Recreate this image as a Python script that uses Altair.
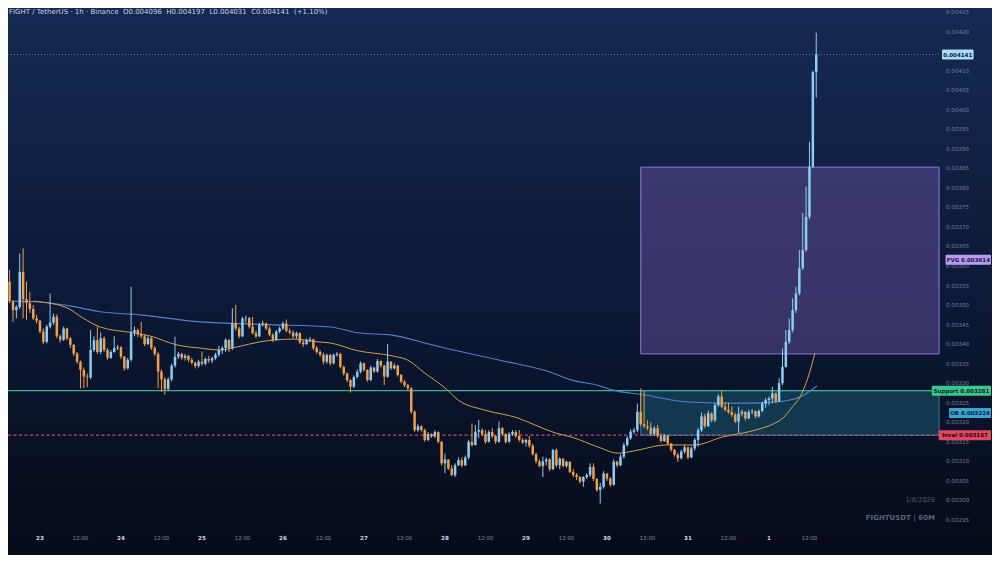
import altair as alt
import pandas as pd

U = 1e-6  # all prices below are written in millionths of USDT

# ---------------- candle data (hourly, Jan 22 15:00 -> Feb 1 14:00) ----------------
first_open = 3560
closes = [
    3510, 3487, 3495, 3585, 3515, 3505, 3490, 3466, 3460, 3432,
    3406, 3445, 3455, 3470, 3420, 3411, 3440, 3415, 3398, 3376,
    3355, 3334, 3317, 3315, 3385, 3410, 3380, 3415, 3385, 3365,
    3380, 3390, 3392, 3368, 3338, 3360, 3430, 3436, 3425, 3420,
    3400, 3415, 3390, 3375, 3330, 3310, 3285, 3310, 3345, 3368,
    3375, 3365, 3370, 3360, 3352, 3344, 3355, 3350, 3362, 3358,
    3364, 3373, 3385,
    3390, 3411, 3390, 3454, 3440, 3420, 3466, 3467, 3445, 3428,
    3420, 3450, 3453, 3440, 3424, 3411, 3432, 3440, 3453, 3434,
    3430, 3420, 3428, 3405, 3400, 3410, 3412, 3390, 3380, 3373,
    3355, 3372, 3351,
    3372, 3375, 3342, 3325, 3308, 3291, 3316, 3329, 3351, 3334,
    3308, 3340, 3330, 3357, 3345, 3317, 3355, 3338, 3345, 3321,
    3304, 3295, 3287, 3227, 3180, 3190, 3180, 3155, 3170, 3164,
    3175, 3150, 3095,
    3105, 3082, 3065, 3090, 3103, 3090, 3110, 3150, 3142, 3176,
    3180, 3170, 3150, 3175, 3165, 3150, 3185, 3170, 3150, 3170,
    3175, 3165, 3155, 3148, 3155, 3140, 3118, 3100, 3088, 3100,
    3105, 3080, 3129, 3090,
    3107, 3088, 3099, 3073, 3065, 3060, 3048, 3060, 3065, 3086,
    3055, 3027, 3035, 3069, 3056, 3040, 3099, 3090, 3112, 3142,
    3159, 3176, 3180, 3227, 3195, 3190, 3186, 3170, 3185, 3165,
    3152, 3166, 3146, 3130, 3117, 3108, 3125, 3136, 3110, 3133,
    3155, 3180, 3215, 3190, 3223, 3205, 3244, 3266, 3240, 3232,
    3226, 3219, 3202, 3222, 3227, 3210, 3226, 3228, 3215, 3229,
    3248, 3257, 3261, 3274, 3253, 3300, 3342, 3406, 3436, 3487,
    3530, 3594, 3641, 3726, 3854, 4096, 4141,
]
highs = [
    3590, 3512, 3500, 3632, 3645, 3560, 3534, 3500, 3475, 3462,
    3440, 3450, 3530, 3478, 3476, 3425, 3445, 3442, 3418, 3400,
    3380, 3358, 3340, 3325, 3436, 3420, 3445, 3430, 3420, 3390,
    3385, 3420, 3398, 3395, 3370, 3365, 3547, 3445, 3440, 3457,
    3425, 3420, 3418, 3395, 3380, 3335, 3315, 3315, 3350, 3419,
    3380, 3378, 3375, 3372, 3365, 3356, 3360, 3381, 3366, 3370,
    3368, 3378, 3395,
    3395, 3415, 3412, 3492, 3501, 3445, 3470, 3473, 3470, 3470,
    3435, 3455, 3460, 3455, 3445, 3428, 3436, 3445, 3458, 3463,
    3440, 3435, 3432, 3430, 3412, 3415, 3418, 3414, 3395, 3385,
    3378, 3376, 3375,
    3376, 3380, 3378, 3345, 3328, 3310, 3320, 3335, 3356, 3353,
    3336, 3345, 3342, 3362, 3358, 3347, 3400, 3357, 3350, 3347,
    3324, 3308, 3298, 3290, 3230, 3195, 3192, 3184, 3175, 3172,
    3180, 3177, 3152,
    3120, 3105, 3090, 3095, 3110, 3110, 3115, 3155, 3197, 3193,
    3206, 3185, 3180, 3180, 3185, 3168, 3202, 3188, 3172, 3175,
    3180, 3180, 3180, 3160, 3158, 3165, 3145, 3122, 3105, 3112,
    3110, 3108, 3132, 3133,
    3110, 3108, 3102, 3100, 3080, 3070, 3062, 3062, 3070, 3095,
    3095, 3058, 3045, 3075, 3070, 3060, 3105, 3102, 3118, 3148,
    3165, 3182, 3186, 3248, 3287, 3280, 3205, 3200, 3190, 3193,
    3172, 3170, 3168, 3146, 3132, 3122, 3130, 3142, 3138, 3138,
    3160, 3186, 3225, 3222, 3230, 3226, 3250, 3272, 3283, 3252,
    3250, 3240, 3225, 3240, 3232, 3228, 3232, 3234, 3230, 3233,
    3252, 3262, 3266, 3291, 3276, 3313, 3389, 3436, 3466, 3517,
    3547, 3641, 3736, 3803, 3918, 4100, 4197,
]
lows = [
    3505, 3457, 3466, 3490, 3466, 3462, 3480, 3462, 3453, 3428,
    3400, 3402, 3440, 3450, 3415, 3404, 3408, 3410, 3390, 3370,
    3350, 3287, 3287, 3290, 3310, 3380, 3375, 3375, 3380, 3360,
    3362, 3378, 3385, 3362, 3332, 3335, 3355, 3420, 3418, 3415,
    3395, 3398, 3385, 3370, 3287, 3278, 3270, 3280, 3305, 3340,
    3362, 3360, 3358, 3354, 3348, 3338, 3340, 3345, 3346, 3352,
    3351, 3360, 3368,
    3375, 3380, 3380, 3385, 3435, 3415, 3418, 3455, 3440, 3425,
    3415, 3418, 3445, 3436, 3420, 3405, 3408, 3428, 3436, 3430,
    3425, 3415, 3414, 3400, 3393, 3398, 3405, 3385, 3375, 3368,
    3348, 3350, 3345,
    3348, 3368, 3338, 3320, 3303, 3276, 3288, 3312, 3325, 3330,
    3304, 3305, 3326, 3327, 3340, 3295, 3314, 3334, 3335, 3317,
    3300, 3290, 3282, 3222, 3175, 3176, 3176, 3150, 3152, 3160,
    3160, 3146, 3090,
    3070, 3078, 3062, 3060, 3088, 3085, 3088, 3105, 3138, 3140,
    3160, 3165, 3145, 3148, 3160, 3145, 3148, 3165, 3145, 3148,
    3165, 3160, 3150, 3144, 3138, 3135, 3115, 3095, 3085, 3060,
    3090, 3075, 3078, 3085,
    3080, 3085, 3084, 3070, 3060, 3052, 3043, 3035, 3055, 3060,
    3050, 3022, 2992, 3030, 3050, 3035, 3038, 3085, 3088, 3108,
    3138, 3155, 3170, 3175, 3190, 3185, 3180, 3165, 3165, 3160,
    3148, 3150, 3142, 3125, 3112, 3099, 3105, 3120, 3105, 3108,
    3128, 3138, 3175, 3185, 3188, 3200, 3200, 3240, 3236, 3228,
    3222, 3214, 3198, 3172, 3215, 3205, 3208, 3220, 3210, 3212,
    3226, 3238, 3244, 3248, 3250, 3252, 3295, 3340, 3400, 3430,
    3480, 3525, 3590, 3636, 3720, 3850, 4031,
]

# moving averages (candle index, price)
blue_idx = [0.7, 9, 17.9, 26.8, 38.6, 56.4, 77.2, 95, 103.2, 113.3, 123, 129,
            145.3, 160.1, 166.6, 174.3, 178.5, 188.3, 201, 215.8, 226.8, 234.2, 239.2]
blue_val = [3510, 3508, 3498, 3483, 3475, 3457, 3450, 3444, 3429, 3423, 3403, 3390,
            3359, 3329, 3308, 3295, 3283, 3270, 3252, 3249, 3252, 3265, 3293]
orange_idx = [7, 17, 21.7, 26.8, 36.6, 41.6, 49.6, 56.4, 62.4, 67.4, 74.2, 84, 91.1,
              95, 103.2, 113.3, 118, 123, 129, 132.9, 140.9, 150.6, 155.7, 161.6,
              166.6, 174.3, 180.3, 186.2, 194.2, 203, 211.1, 220.9, 226.8, 229.2,
              231.7, 234.2, 236.5, 238.6]
orange_val = [3510, 3493, 3467, 3444, 3429, 3421, 3398, 3390, 3385, 3393, 3406, 3413,
              3406, 3403, 3383, 3370, 3359, 3326, 3288, 3257, 3231, 3211, 3193, 3173,
              3162, 3137, 3121, 3129, 3142, 3142, 3162, 3180, 3198, 3211, 3237, 3265,
              3313, 3377]

# zones / levels
fvg_top, fvg_bottom = 3853, 3375
support_level = 3281
inval_level = 3167
zone_start, zone_end = 187, 275.4
line_start = -0.47

# axis labels (0.00415 sits under the price tag in the reference, so it is not shown)
y_ticks = [0.00295, 0.00300, 0.00305, 0.00310, 0.00315, 0.00320, 0.00325, 0.00330,
           0.00335, 0.00340, 0.00345, 0.00350, 0.00355, 0.00360, 0.00365, 0.00370,
           0.00375, 0.00380, 0.00385, 0.00390, 0.00395, 0.00400, 0.00405, 0.00410,
           0.00420, 0.00425]
x_tick_idx = [9, 21, 33, 45, 57, 69, 81, 93, 105, 117, 129, 141, 153, 165, 177, 189,
              201, 213, 225, 237]
x_tick_text = ["23", "12:00", "24", "12:00", "25", "12:00", "26", "12:00", "27", "12:00",
               "28", "12:00", "29", "12:00", "30", "12:00", "31", "12:00", "1", "12:00"]

# ---------------- build tables ----------------
opens = [first_open] + closes[:-1]
n = len(closes)
candles = pd.DataFrame({
    "i": list(range(n)),
    "open": [v * U for v in opens],
    "high": [v * U for v in highs],
    "low": [v * U for v in lows],
    "close": [v * U for v in closes],
})
blue = pd.DataFrame({"i": blue_idx, "v": [v * U for v in blue_val]})
orange = pd.DataFrame({"i": orange_idx, "v": [v * U for v in orange_val]})

last = candles.iloc[-1]
chg = (last.close / last.open - 1) * 100
S = "\u00a0\u00a0"
title_text = (f"FIGHT / TetherUS · 1h · Binance{S}O{last.open:.6f}{S}H{last.high:.6f}"
              f"{S}L{last.low:.6f}{S}C{last.close:.6f}{S}({chg:+.2f}%)")

W, H = 984, 547
XS = alt.Scale(domain=[-0.474, -0.474 + W / 3.375], nice=False, zero=False, padding=0)
YS = alt.Scale(domain=[2860.44 * U, 4260.24 * U], nice=False, zero=False, padding=0)
FONT = "DejaVu Sans"
UP, DOWN = "#8fcdf0", "#eea04a"

one = pd.DataFrame({"a": [0]})

bg = alt.Chart(one).mark_rect(
    color=alt.LinearGradient(
        gradient="linear",
        stops=[alt.GradientStop(color="#152a52", offset=0),
               alt.GradientStop(color="#0d1a38", offset=0.5),
               alt.GradientStop(color="#060b18", offset=1)],
        x1=0, x2=0, y1=0, y2=1)
).encode(x=alt.value(0), x2=alt.value(W), y=alt.value(0), y2=alt.value(H))

zones = pd.DataFrame({
    "x0": [zone_start, zone_start], "x1": [zone_end, zone_end],
    "y0": [fvg_bottom * U, inval_level * U], "y1": [fvg_top * U, support_level * U],
    "name": ["FVG", "OB"],
})
fvg = alt.Chart(zones).transform_filter("datum.name == 'FVG'").mark_rect(
    fill="#7a5fb8", fillOpacity=0.4, stroke="#8c7ad6", strokeWidth=1
).encode(x=alt.X("x0:Q", scale=XS, axis=None), x2="x1:Q",
         y=alt.Y("y0:Q", scale=YS, axis=None), y2="y1:Q")
ob = alt.Chart(zones).transform_filter("datum.name == 'OB'").mark_rect(
    fill="#2a9bb5", fillOpacity=0.28, stroke="#3aa9c4", strokeWidth=1, strokeOpacity=0.7
).encode(x=alt.X("x0:Q", scale=XS, axis=None), x2="x1:Q",
         y=alt.Y("y0:Q", scale=YS, axis=None), y2="y1:Q")

levels = pd.DataFrame({
    "x0": [line_start] * 3, "x1": [zone_end] * 3,
    "y": [support_level * U, inval_level * U, last.close],
    "name": ["support", "inval", "price"],
})
def level_rule(name, **kw):
    return alt.Chart(levels).transform_filter(f"datum.name == '{name}'").mark_rule(**kw).encode(
        x=alt.X("x0:Q", scale=XS, axis=None), x2="x1:Q",
        y=alt.Y("y:Q", scale=YS, axis=None))

support_rule = level_rule("support", color="#3aae90", strokeWidth=1.1)
inval_rule = level_rule("inval", color="#c8467a", strokeWidth=1.2, strokeDash=[3, 2.5])
price_rule = level_rule("price", color="#8fb8d8", strokeWidth=0.8, strokeDash=[1, 2], opacity=0.8)

ma_blue = alt.Chart(blue).mark_line(color="#4f82d0", strokeWidth=1.1, interpolate="monotone").encode(
    x=alt.X("i:Q", scale=XS, axis=None), y=alt.Y("v:Q", scale=YS, axis=None))
ma_orange = alt.Chart(orange).mark_line(color="#d0a24e", strokeWidth=1.0, interpolate="monotone").encode(
    x=alt.X("i:Q", scale=XS, axis=None), y=alt.Y("v:Q", scale=YS, axis=None))

col = alt.condition("datum.close >= datum.open", alt.value(UP), alt.value(DOWN))
wicks = alt.Chart(candles).mark_rule(strokeWidth=1).encode(
    x=alt.X("i:Q", scale=XS, axis=None),
    y=alt.Y("low:Q", scale=YS, axis=None), y2="high:Q", color=col)
bodies = alt.Chart(candles).mark_bar(size=2.5).encode(
    x=alt.X("i:Q", scale=XS, axis=None),
    y=alt.Y("open:Q", scale=YS, axis=None), y2="close:Q", color=col)

ylab = alt.Chart(pd.DataFrame({"v": y_ticks})).mark_text(
    align="left", baseline="middle", fontSize=5.6, font=FONT, color="#717c97"
).encode(x=alt.value(938), y=alt.Y("v:Q", scale=YS, axis=None),
         text=alt.Text("v:Q", format=".5f"))

xt = pd.DataFrame({"i": x_tick_idx, "t": x_tick_text})
xlab_day = alt.Chart(xt).transform_filter("datum.t != '12:00'").mark_text(
    baseline="middle", fontSize=5.6, font=FONT, fontWeight="bold", color="#d0d8e8"
).encode(x=alt.X("i:Q", scale=XS, axis=None), y=alt.value(530), text="t:N")
xlab_hr = alt.Chart(xt).transform_filter("datum.t == '12:00'").mark_text(
    baseline="middle", fontSize=5.4, font=FONT, color="#7d88a3"
).encode(x=alt.X("i:Q", scale=XS, axis=None), y=alt.value(530), text="t:N")

# price tags on the right edge
tag_text = [f"{last.close:.6f}",
            f"FVG {(fvg_top + fvg_bottom) / 2 * U:.6f}",
            f"Support {support_level * U:.6f}",
            f"OB {(support_level + inval_level) / 2 * U:.6f}",
            f"Inval {inval_level * U:.6f}"]
tag_price = [last.close, (fvg_top + fvg_bottom) / 2 * U + 0.0000023, support_level * U,
             (support_level + inval_level) / 2 * U, inval_level * U]
tag_fill = ["#a9dcf5", "#b99cf2", "#3cc58f", "#3aa5cf", "#e04860"]
tag_ink = ["#0a1a33", "#1b1040", "#07291d", "#061f38", "#2a070e"]
tag_w = [len(t) * 3.45 + 4 for t in tag_text]
tag_x1 = [934 + tag_w[0]] + [W - 1] * 4
tag_x0 = [x1 - w for x1, w in zip(tag_x1, tag_w)]
tags = pd.DataFrame({"t": tag_text, "p": tag_price, "fill": tag_fill, "ink": tag_ink,
                     "x0": tag_x0, "x1": tag_x1,
                     "xc": [(a + b) / 2 for a, b in zip(tag_x0, tag_x1)]})
tag_box = alt.Chart(tags).mark_rect(yOffset=-5, y2Offset=5, cornerRadius=1).encode(
    x=alt.X("x0:Q", scale=None), x2="x1:Q",
    y=alt.Y("p:Q", scale=YS, axis=None), y2="p:Q",
    fill=alt.Fill("fill:N", scale=None))
tag_lbl = alt.Chart(tags).mark_text(fontSize=5.5, font=FONT, fontWeight="bold", baseline="middle").encode(
    x=alt.X("xc:Q", scale=None), y=alt.Y("p:Q", scale=YS, axis=None), text="t:N",
    color=alt.Color("ink:N", scale=None))

title = alt.Chart(one).mark_text(align="left", baseline="middle", fontSize=7, font=FONT,
                                 color="#c9d3e8", text=title_text).encode(
    x=alt.value(1), y=alt.value(4))
wm_date = alt.Chart(one).mark_text(align="right", baseline="middle", fontSize=6.6, font=FONT,
                                   color="#4b5673", text="1/8/2026").encode(
    x=alt.value(927), y=alt.value(492))
wm_sym = alt.Chart(one).mark_text(align="right", baseline="middle", fontSize=7, font=FONT,
                                  fontWeight="bold", color="#56627f",
                                  text="FIGHTUSDT | 60M").encode(
    x=alt.value(927), y=alt.value(510))

chart = alt.layer(
    bg, fvg, ob, support_rule, inval_rule, price_rule, ma_blue, ma_orange,
    wicks, bodies, ylab, xlab_day, xlab_hr, tag_box, tag_lbl, title, wm_date, wm_sym
).properties(
    width=W, height=H, autosize=alt.AutoSizeParams(type="none"), padding=0,
    background="#070c19"
).configure_view(stroke=None)

chart.save("out.html", embed_options={"renderer": "svg", "actions": False})
